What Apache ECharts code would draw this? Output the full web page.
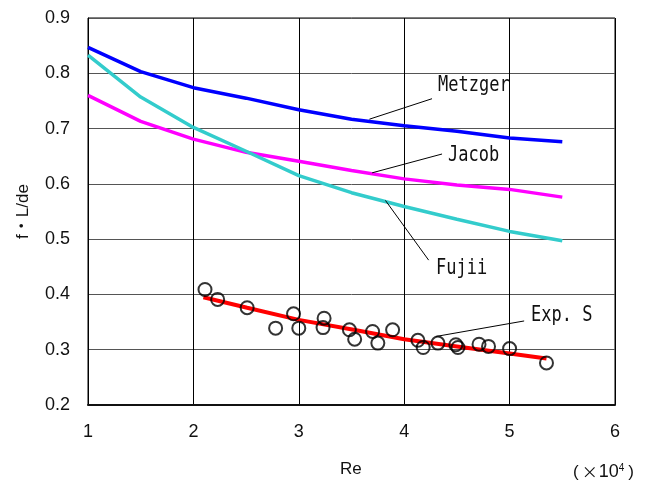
<!DOCTYPE html>
<html>
<head>
<meta charset="utf-8">
<script src="https://cdn.jsdelivr.net/npm/echarts@6/dist/echarts.min.js"></script>
<style>
html,body{margin:0;padding:0;background:#fff;}
#chart{width:651px;height:481px;}
</style>
</head>
<body>
<div id="chart"></div>
<script>
// Re (x 10^4) sample positions for the correlation curves
var reX = [1, 1.5, 2, 2.5, 3, 3.5, 4, 4.5, 5, 5.5];
var metzger = [0.847, 0.803, 0.774, 0.755, 0.734, 0.717, 0.705, 0.695, 0.683, 0.676];
var jacob   = [0.760, 0.713, 0.681, 0.657, 0.641, 0.624, 0.609, 0.598, 0.590, 0.576];
var fujii   = [0.833, 0.757, 0.702, 0.659, 0.615, 0.584, 0.559, 0.536, 0.514, 0.497];

// Experimental fit line (Exp. S)
var fitX = [2.095, 2.51, 3.0, 3.52, 4.0, 4.5, 5.0, 5.35];
var fitY = [0.395, 0.376, 0.354, 0.336, 0.319, 0.306, 0.293, 0.284];

// Experimental points
var expX = [2.11, 2.23, 2.51, 2.78, 2.95, 3.00, 3.23, 3.24, 3.48, 3.53, 3.70, 3.75, 3.89, 4.13, 4.18, 4.32, 4.49, 4.51, 4.71, 4.80, 5.00, 5.35];
var expY = [0.409, 0.391, 0.376, 0.339, 0.365, 0.339, 0.340, 0.357, 0.336, 0.319, 0.333, 0.312, 0.336, 0.317, 0.304, 0.312, 0.309, 0.304, 0.310, 0.306, 0.302, 0.276];

var xTicks = [1, 2, 3, 4, 5, 6];
var yTicks = [0.2, 0.3, 0.4, 0.5, 0.6, 0.7, 0.8, 0.9];

// annotation names and leader-line endpoints (data coordinates)
var annoNames = ['Metzger', 'Jacob', 'Fujii', 'Exp. S'];
var annoFrom  = [[3.67, 0.717], [3.696, 0.620], [3.822, 0.570], [4.302, 0.324]];
var annoTo    = [[4.264, 0.754], [4.359, 0.654], [4.232, 0.462], [5.138, 0.352]];

function pairs(xs, ys){ return xs.map(function(x,i){ return [x, ys[i]]; }); }

var chart = echarts.init(document.getElementById('chart'), null, {renderer:'canvas'});

var annoFont = '17px "DejaVu Sans Mono", monospace';
// label placement (pixels) for the annotation texts
var annoPos = [[438, 85.5], [448, 155.5], [436, 269], [531, 315.5]];

var graphics = [
  {type: 'text', left: 340, top: 461,
   style: {text: 'Re', font: '17px "Liberation Sans", Arial, sans-serif', fill: '#111'}},
  {type: 'text', x: 573, y: 472,
   style: {
     text: '{p|(}{x|×}{n|10}{s|4}{q|)}',
     verticalAlign: 'middle',
     rich: {
       p: {fontFamily: '"Liberation Sans", Arial, sans-serif', fontSize: 17, fill: '#111', padding: [0, 3, 0, 0]},
       x: {fontFamily: '"Noto Sans CJK JP", sans-serif', fontSize: 16, fill: '#111', padding: [0, 1, 0, 0]},
       n: {fontFamily: '"Liberation Sans", Arial, sans-serif', fontSize: 18, fill: '#111'},
       s: {fontFamily: '"Liberation Sans", Arial, sans-serif', fontSize: 10, fill: '#111', verticalAlign: 'top', padding: [0, 0, 8, 0]},
       q: {fontFamily: '"Liberation Sans", Arial, sans-serif', fontSize: 17, fill: '#111', padding: [0, 0, 0, 4]}
     }
   }}
];
annoNames.forEach(function(n, i){
  graphics.push({type: 'text', x: annoPos[i][0], y: annoPos[i][1], scaleY: 1.2,
    style: {text: n, font: annoFont, fill: '#111', verticalAlign: 'middle'}});
});

var option = {
  animation: false,
  backgroundColor: '#fff',
  grid: {left: 88, top: 18, right: 36, bottom: 76, show: true, borderColor: '#000', borderWidth: 1},
  xAxis: {
    type: 'value', min: 1, max: 6, interval: 1,
    axisLine: {show: true, onZero: false, lineStyle: {color: '#111', width: 2}},
    axisTick: {show: false},
    splitLine: {show: true, lineStyle: {color: '#000', width: 1}},
    axisLabel: {margin: 18, fontFamily: '"Liberation Sans", Arial, sans-serif', fontSize: 18, color: '#111',
      formatter: function(v){ return xTicks.indexOf(v) >= 0 ? String(v) : ''; }}
  },
  yAxis: {
    type: 'value', min: 0.2, max: 0.9, interval: 0.1,
    name: 'f・L/de', nameLocation: 'middle', nameRotate: 90, nameGap: 56,
    nameTextStyle: {fontFamily: '"Liberation Sans", "Noto Sans CJK JP", sans-serif', fontSize: 17, color: '#111'},
    axisLine: {show: true, onZero: false, lineStyle: {color: '#000', width: 1}},
    axisTick: {show: false},
    splitLine: {show: true, lineStyle: {color: '#555', width: 1}},
    axisLabel: {margin: 18, fontFamily: '"Liberation Sans", Arial, sans-serif', fontSize: 18, color: '#111',
      formatter: function(v){ return v.toFixed(1); }}
  },
  graphic: graphics,
  series: [
    {type: 'line', name: 'Metzger', data: pairs(reX, metzger), symbol: 'none', lineStyle: {color: '#0000ff', width: 3.5}, z: 3},
    {type: 'line', name: 'Jacob', data: pairs(reX, jacob), symbol: 'none', lineStyle: {color: '#ff00ff', width: 3.5}, z: 3},
    {type: 'line', name: 'Fujii', data: pairs(reX, fujii), symbol: 'none', lineStyle: {color: '#33cccc', width: 3.5}, z: 3},
    {type: 'line', name: 'Exp. S', data: pairs(fitX, fitY), symbol: 'none', lineStyle: {color: '#ff0000', width: 4}, z: 3},
    {type: 'scatter', name: 'Exp', data: pairs(expX, expY), symbol: 'circle', symbolSize: 13,
     itemStyle: {color: 'rgba(255,255,255,0)', borderColor: '#000', borderWidth: 2}, z: 4},
    {type: 'line', name: 'annot', data: [], symbol: 'none', z: 5, silent: true,
     markLine: {
       silent: true, symbol: ['none', 'none'], animation: false,
       lineStyle: {color: '#000', width: 1, type: 'solid'},
       label: {show: false},
       data: annoNames.map(function(n, i){
         return [{coord: annoFrom[i]}, {coord: annoTo[i]}];
       })
     }}
  ]
};
chart.setOption(option);
</script>
</body>
</html>
